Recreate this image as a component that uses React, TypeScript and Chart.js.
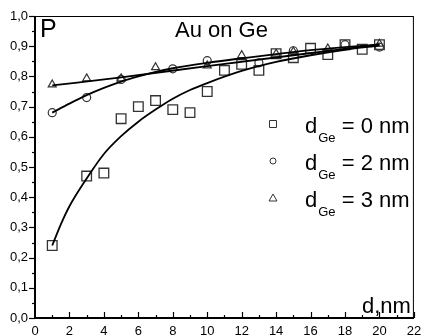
import React, { useEffect, useRef } from 'react';
import { Chart, registerables } from 'chart.js';

Chart.register(...registerables);

// ---- data ----
const squareX = [1, 3, 4, 5, 6, 7, 8, 9, 10, 11, 12, 13, 14, 15, 16, 17, 18, 19, 20];
const squareY = [0.24, 0.47, 0.48, 0.66, 0.70, 0.72, 0.69, 0.68, 0.75, 0.82, 0.84, 0.82, 0.875, 0.862, 0.893, 0.872, 0.905, 0.89, 0.905];

const circleX = [1, 3, 5, 8, 10, 13, 15, 18, 20];
const circleY = [0.68, 0.73, 0.79, 0.825, 0.852, 0.845, 0.885, 0.905, 0.897];

const triangleX = [1, 3, 5, 7, 10, 12, 14, 15, 17, 20];
const triangleY = [0.773, 0.793, 0.793, 0.83, 0.836, 0.87, 0.875, 0.882, 0.892, 0.908];

// fit curves
const fitSquareX = [1, 1.5, 2, 3, 4, 5, 6, 7, 8, 9, 10, 12, 14, 16, 18, 20];
const fitSquareY = [0.24, 0.31, 0.37, 0.462, 0.543, 0.602, 0.65, 0.69, 0.726, 0.755, 0.778, 0.818, 0.848, 0.87, 0.888, 0.902];

const fitCircleX = [1, 2, 3, 4, 5, 6, 7, 8, 10, 12, 14, 16, 18, 20];
const fitCircleY = [0.68, 0.71, 0.738, 0.762, 0.783, 0.8, 0.815, 0.827, 0.845, 0.86, 0.874, 0.887, 0.897, 0.906];

const fitTriangleX = [1, 5, 10, 15, 20];
const fitTriangleY = [0.77, 0.797, 0.834, 0.87, 0.905];

const legendLabels = ['= 0 nm', '= 2 nm', '= 3 nm'];
const legendMain = 'd';
const legendSub = 'Ge';
const titleText = 'Au on Ge';
const yAxisTitle = 'P';
const xAxisTitle = 'd,nm';

const FONT = '"Liberation Sans", Arial, sans-serif';

function toPts(xs: number[], ys: number[]) {
  return xs.map((x, i) => ({ x, y: ys[i] }));
}

const decorPlugin = {
  id: 'decor',
  afterDraw(chart: any) {
    const { ctx, chartArea, scales } = chart;
    const { left, right, top, bottom } = chartArea;
    const xs = scales.x;
    const ys = scales.y;
    ctx.save();
    // frame
    ctx.strokeStyle = '#000';
    ctx.lineWidth = 1;
    ctx.strokeRect(left + 0.5, top + 0.5, right - left - 1, bottom - top);
    ctx.lineWidth = 2;
    ctx.beginPath();
    ctx.moveTo(left, top);
    ctx.lineTo(left, bottom);
    ctx.lineTo(right, bottom);
    ctx.stroke();

    // y ticks (outward)
    ctx.lineWidth = 1.2;
    const yMin = ys.min, yMax = ys.max;
    for (let k = 0; k <= Math.round((yMax - yMin) / 0.05); k++) {
      const v = yMin + k * 0.05;
      const p = Math.round(ys.getPixelForValue(v)) + 0.5;
      const len = k % 2 === 0 ? 6 : 3;
      ctx.beginPath();
      ctx.moveTo(left - len, p);
      ctx.lineTo(left, p);
      ctx.stroke();
    }
    // x ticks (inward)
    for (let v = xs.min + 1; v <= xs.max; v++) {
      const p = Math.round(xs.getPixelForValue(v)) + 0.5;
      const len = v % 2 === 0 ? 6 : 3;
      ctx.beginPath();
      ctx.moveTo(p, bottom);
      ctx.lineTo(p, bottom - len);
      ctx.stroke();
    }

    // texts
    ctx.fillStyle = '#000';
    ctx.textBaseline = 'alphabetic';
    ctx.textAlign = 'left';
    ctx.font = `25px ${FONT}`;
    ctx.fillText(yAxisTitle, left + 5, top + 21);
    ctx.font = `22px ${FONT}`;
    ctx.fillText(titleText, left + 140, top + 21);
    ctx.fillText(xAxisTitle, right - 52, bottom - 5);

    // legend
    const markX = left + 238;
    const textX = left + 270;
    for (let i = 0; i < legendLabels.length; i++) {
      const cy = top + 108 + i * 37;
      ctx.strokeStyle = '#333';
      ctx.lineWidth = 1;
      ctx.beginPath();
      if (i === 0) {
        ctx.rect(markX - 3.5, cy - 3.5, 7, 7);
      } else if (i === 1) {
        ctx.arc(markX, cy, 3, 0, Math.PI * 2);
      } else {
        ctx.moveTo(markX, cy - 4);
        ctx.lineTo(markX + 4, cy + 3);
        ctx.lineTo(markX - 4, cy + 3);
        ctx.closePath();
      }
      ctx.stroke();
      ctx.font = `22px ${FONT}`;
      ctx.fillText(legendMain, textX, cy + 9);
      const dw = ctx.measureText(legendMain).width;
      ctx.font = `13px ${FONT}`;
      ctx.fillText(legendSub, textX + dw + 1, cy + 18);
      const sw = ctx.measureText(legendSub).width;
      ctx.font = `22px ${FONT}`;
      ctx.fillText(' ' + legendLabels[i], textX + dw + 1 + sw, cy + 9);
    }
    ctx.restore();
  },
};

export default function App() {
  const ref = useRef<HTMLCanvasElement | null>(null);
  useEffect(() => {
    if (!ref.current) return;
    const markerColor = '#333';
    const chart = new Chart(ref.current, {
      type: 'scatter',
      data: {
        datasets: [
          {
            label: 'fit0',
            data: toPts(fitSquareX, fitSquareY),
            showLine: true,
            borderColor: '#000',
            borderWidth: 1.8,
            pointRadius: 0,
            cubicInterpolationMode: 'monotone',
          } as any,
          {
            label: 'fit2',
            data: toPts(fitCircleX, fitCircleY),
            showLine: true,
            borderColor: '#000',
            borderWidth: 1.8,
            pointRadius: 0,
            cubicInterpolationMode: 'monotone',
          } as any,
          {
            label: 'fit3',
            data: toPts(fitTriangleX, fitTriangleY),
            showLine: true,
            borderColor: '#000',
            borderWidth: 1.8,
            pointRadius: 0,
            cubicInterpolationMode: 'monotone',
          } as any,
          {
            label: 'd=0',
            data: toPts(squareX, squareY),
            pointStyle: 'rect',
            pointRadius: 6.8,
            borderColor: markerColor,
            backgroundColor: 'rgba(0,0,0,0)',
            pointBorderWidth: 1.3,
          } as any,
          {
            label: 'd=2',
            data: toPts(circleX, circleY),
            pointStyle: 'circle',
            pointRadius: 4,
            borderColor: markerColor,
            backgroundColor: 'rgba(0,0,0,0)',
            pointBorderWidth: 1.2,
          } as any,
          {
            label: 'd=3',
            data: toPts(triangleX, triangleY),
            pointStyle: 'triangle',
            pointRadius: 4.6,
            borderColor: markerColor,
            backgroundColor: 'rgba(0,0,0,0)',
            pointBorderWidth: 1.2,
          } as any,
        ],
      },
      options: {
        animation: false,
        responsive: false,
        layout: { padding: { left: 0, top: 16, right: 7, bottom: 0 } },
        plugins: { legend: { display: false }, tooltip: { enabled: false } },
        scales: {
          x: {
            type: 'linear',
            min: 0,
            max: 22,
            grid: { display: false, drawTicks: false },
            border: { display: false },
            ticks: {
              stepSize: 2,
              padding: 6,
              color: '#000',
              font: { family: FONT, size: 13 },
              maxRotation: 0,
            },
            afterFit(scale: any) {
              scale.height = 17;
              scale.paddingLeft = 0;
              scale.paddingRight = 0;
            },
          },
          y: {
            type: 'linear',
            min: 0,
            max: 1,
            grid: { display: false, drawTicks: false },
            border: { display: false },
            ticks: {
              stepSize: 0.1,
              padding: 7,
              color: '#000',
              font: { family: FONT, size: 13 },
              callback: (v: any) => Number(v).toFixed(1).replace('.', ','),
            },
            afterFit(scale: any) {
              scale.width = 35;
              scale.paddingTop = 0;
              scale.paddingBottom = 0;
            },
          },
        },
      } as any,
      plugins: [decorPlugin],
    });
    return () => chart.destroy();
  }, []);
  return (
    <div style={{ position: 'absolute', left: 0, top: 0, width: 422, height: 335, background: '#fff' }}>
      <canvas ref={ref} width={422} height={335} style={{ display: 'block' }} />
    </div>
  );
}
